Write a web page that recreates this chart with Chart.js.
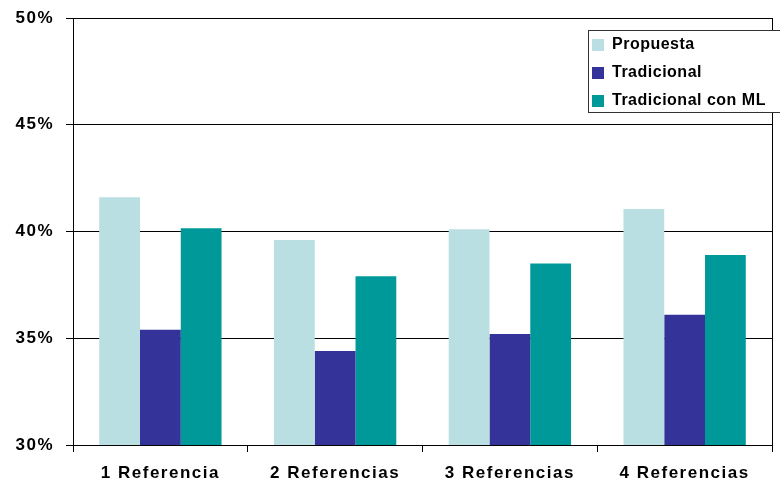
<!DOCTYPE html>
<html>
<head>
<meta charset="utf-8">
<script src="https://cdn.jsdelivr.net/npm/chart.js@4/dist/chart.umd.min.js"></script>
<style>
  html, body { margin: 0; padding: 0; background: #fff; }
  #wrap { width: 780px; height: 487px; }
</style>
</head>
<body>
<div id="wrap"><canvas id="chart"></canvas></div>
<script>
const categories = ['1 Referencia', '2 Referencias', '3 Referencias', '4 Referencias'];
const propuesta = [41.6, 39.6, 40.1, 41.05];
const tradicional = [35.4, 34.4, 35.2, 36.1];
const tradicionalML = [40.15, 37.9, 38.5, 38.9];
const yMin = 30;
const yMax = 50;
const yStep = 5;

const FONT = "'Liberation Sans', Arial, sans-serif";

// plot border on the right + white legend box, drawn before grid/legend
const frame = {
  id: 'frame',
  afterInit(chart) {
    const lg = chart.legend;
    const draw = lg.draw.bind(lg);
    lg.draw = function (area) {
      const c = chart.ctx;
      const prev = c.letterSpacing;
      c.letterSpacing = '0.5px';
      draw(area);
      c.letterSpacing = prev;
    };
  },
  afterLayout(chart) {
    const lg = chart.legend;
    const a = chart.chartArea;
    const h = lg.bottom - lg.top;
    lg.left = a.right - 192;
    lg.right = lg.left + lg.width;
    lg.top = 25;
    lg.bottom = lg.top + h;
  },
  beforeDraw(chart) {
    const c = chart.ctx;
    const a = chart.chartArea;
    c.save();
    c.strokeStyle = '#000';
    c.lineWidth = 1;
    c.beginPath();
    c.moveTo(Math.round(a.right) + 0.5, a.top);
    c.lineTo(Math.round(a.right) + 0.5, a.bottom);
    c.stroke();
    c.fillStyle = '#fff';
    c.fillRect(588, 30, 200, 82);
    c.strokeStyle = '#333';
    c.strokeRect(588.5, 30.5, 200, 82);
    c.restore();
    c.letterSpacing = '1.5px';
  }
};

new Chart(document.getElementById('chart'), {
  type: 'bar',
  data: {
    labels: categories,
    datasets: [
      { label: 'Propuesta', data: propuesta, backgroundColor: '#BADFE3' },
      { label: 'Tradicional', data: tradicional, backgroundColor: '#333399' },
      { label: 'Tradicional con ML', data: tradicionalML, backgroundColor: '#009999' }
    ]
  },
  options: {
    responsive: true,
    maintainAspectRatio: false,
    animation: false,
    categoryPercentage: 0.7,
    barPercentage: 1.0,
    layout: { padding: { top: 18, right: 8, bottom: 0, left: 0 } },
    plugins: {
      legend: {
        position: 'chartArea',
        align: 'start',
        labels: {
          boxWidth: 12,
          boxHeight: 12,
          padding: 12,
          color: '#000',
          font: { family: FONT, size: 16, weight: 'bold' }
        }
      },
      tooltip: { enabled: false }
    },
    scales: {
      x: {
        grid: { drawOnChartArea: false, drawTicks: true, tickLength: 7, color: '#000' },
        border: { color: '#000' },
        ticks: { color: '#000', padding: 11, font: { family: FONT, size: 17, weight: 'bold' } },
        afterFit: s => { s.height = 42; }
      },
      y: {
        min: yMin,
        max: yMax,
        grid: { color: '#000', tickLength: 7 },
        border: { color: '#000' },
        ticks: {
          stepSize: yStep,
          color: '#000',
          padding: 12,
          font: { family: FONT, size: 17, weight: 'bold' },
          callback: v => v + '%'
        },
        afterFit: s => {
          s.width = 73;
          s.paddingTop = 0;
          s.paddingBottom = 0;
        }
      }
    }
  },
  plugins: [frame]
});
</script>
</body>
</html>
